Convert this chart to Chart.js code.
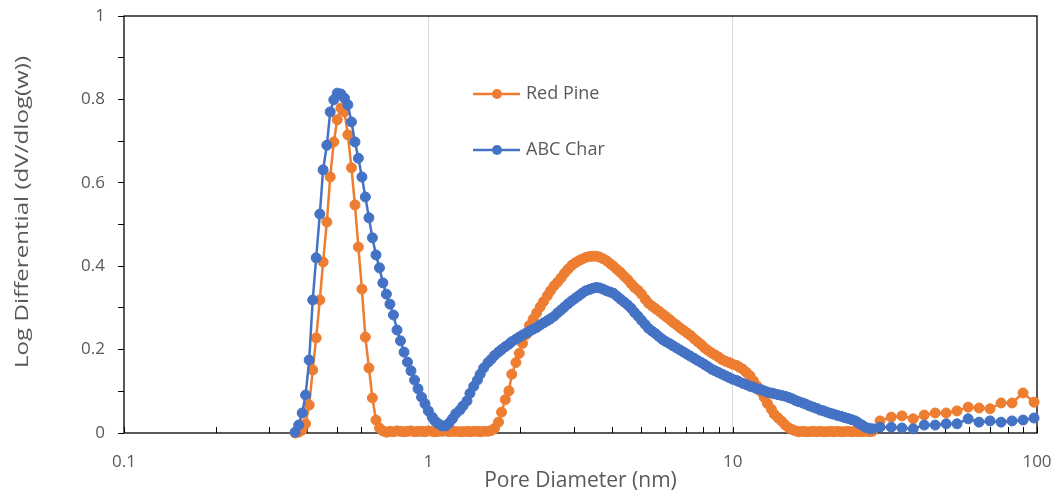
<!DOCTYPE html>
<html>
<head>
<meta charset="utf-8">
<script src="https://cdn.jsdelivr.net/npm/chart.js@4.4.1/dist/chart.umd.min.js"></script>
<style>
  html, body { margin: 0; padding: 0; background: #fff; }
  #wrap { width: 1057px; height: 497px; position: relative; }
</style>
</head>
<body>
<div id="wrap"><canvas id="poreChart"></canvas></div>
<script>
// pore diameters (nm), shared by both samples
const poreDiameter = [
  0.365, 0.375, 0.385, 0.395, 0.406, 0.417, 0.428, 0.440, 0.451, 0.464,
  0.476, 0.489, 0.502, 0.516, 0.530, 0.544, 0.559, 0.574, 0.589, 0.605,
  0.621, 0.638, 0.655, 0.673, 0.691, 0.709, 0.728, 0.748, 0.768, 0.789,
  0.810, 0.832, 0.854, 0.877, 0.901, 0.925, 0.950, 0.975, 1.00, 1.03,
  1.05, 1.08, 1.11, 1.14, 1.17, 1.20, 1.23, 1.27,
  1.30, 1.34, 1.37, 1.41, 1.45, 1.48, 1.52, 1.57, 1.61, 1.65,
  1.70, 1.74, 1.79, 1.84, 1.88, 1.94, 1.99, 2.04, 2.10, 2.15,
  2.21, 2.27, 2.33, 2.39, 2.46, 2.52, 2.59, 2.66, 2.73, 2.80,
  2.88, 2.96, 3.04, 3.12, 3.20, 3.29, 3.38, 3.47, 3.56, 3.65,
  3.75, 3.85, 3.96, 4.06, 4.17, 4.28, 4.40, 4.52, 4.64, 4.76,
  4.89, 5.02, 5.16, 5.29, 5.44, 5.58, 5.73, 5.89, 6.04, 6.21,
  6.37, 6.54, 6.72, 6.90, 7.08, 7.27, 7.47, 7.67, 7.88, 8.09,
  8.30, 8.53, 8.76, 8.99, 9.23, 9.48, 9.73, 9.99, 10.3, 10.5,
  10.8, 11.1, 11.4, 11.7, 12.0, 12.4, 12.7, 13.0, 13.4, 13.7,
  14.1, 14.5, 14.9, 15.3, 15.7, 16.1, 16.5, 17.0, 17.4, 17.9,
  18.4, 18.9, 19.4, 19.9, 20.4, 21.0, 21.5, 22.1, 22.7, 23.3,
  23.9, 24.6, 25.3, 25.9, 26.6, 27.3, 28.1, 28.8,
  30.5, 33.2, 36.0, 39.2, 42.6, 46.3, 50.3, 54.6, 59.4, 64.5,
  70.1, 76.2, 82.8, 90.0, 97.8
];

const redPine = [
  0, 0.002, 0.007, 0.022, 0.067, 0.151, 0.228, 0.319, 0.41, 0.506,
  0.614, 0.698, 0.751, 0.779, 0.77, 0.715, 0.636, 0.547, 0.446, 0.345,
  0.23, 0.156, 0.084, 0.031, 0.012, 0.005, 0.002, 0.004, 0.003, 0.005,
  0.004, 0.003, 0.004, 0.005, 0.003, 0.004, 0.004, 0.003, 0.005, 0.004,
  0.003, 0.004, 0.004, 0.005, 0.003, 0.004, 0.004, 0.003,
  0.003, 0.004, 0.003, 0.004, 0.004, 0.003, 0.004, 0.004, 0.006, 0.011,
  0.026, 0.05, 0.08, 0.101, 0.141, 0.169, 0.191, 0.215, 0.236, 0.258,
  0.273, 0.288, 0.302, 0.315, 0.329, 0.341, 0.353, 0.362, 0.372, 0.383,
  0.393, 0.402, 0.408, 0.413, 0.417, 0.421, 0.423, 0.424, 0.424, 0.422,
  0.418, 0.413, 0.406, 0.4, 0.392, 0.385, 0.376, 0.368, 0.358, 0.349,
  0.342, 0.333, 0.321, 0.311, 0.304, 0.298, 0.292, 0.285, 0.279, 0.272,
  0.265, 0.259, 0.252, 0.246, 0.24, 0.234, 0.226, 0.219, 0.212, 0.204,
  0.198, 0.192, 0.187, 0.182, 0.176, 0.172, 0.169, 0.165, 0.162, 0.158,
  0.153, 0.145, 0.137, 0.125, 0.113, 0.099, 0.085, 0.071, 0.057, 0.045,
  0.036, 0.028, 0.019, 0.012, 0.008, 0.005, 0.003, 0.004, 0.003, 0.003,
  0.004, 0.003, 0.004, 0.003, 0.003, 0.004, 0.003, 0.004, 0.003, 0.003,
  0.004, 0.003, 0.004, 0.003, 0.003, 0.004, 0.003, 0.004,
  0.029, 0.038, 0.041, 0.034, 0.043, 0.048, 0.048, 0.053, 0.062, 0.06,
  0.058, 0.072, 0.072, 0.096, 0.074
];

const abcChar = [
  0.002, 0.019, 0.048, 0.091, 0.175, 0.319, 0.42, 0.525, 0.631, 0.69,
  0.77, 0.799, 0.815, 0.813, 0.803, 0.787, 0.746, 0.698, 0.659, 0.614,
  0.566, 0.516, 0.468, 0.427, 0.396, 0.36, 0.333, 0.309, 0.283, 0.247,
  0.221, 0.194, 0.17, 0.149, 0.127, 0.106, 0.086, 0.07, 0.053, 0.038,
  0.029, 0.022, 0.017, 0.017, 0.024, 0.034, 0.046, 0.055,
  0.065, 0.077, 0.095, 0.112, 0.127, 0.141, 0.156, 0.169, 0.177, 0.186,
  0.194, 0.2, 0.207, 0.213, 0.219, 0.225, 0.23, 0.235, 0.24, 0.244,
  0.249, 0.253, 0.259, 0.264, 0.269, 0.274, 0.28, 0.288, 0.295, 0.302,
  0.31, 0.317, 0.323, 0.329, 0.335, 0.341, 0.344, 0.347, 0.349, 0.348,
  0.345, 0.341, 0.338, 0.335, 0.328, 0.321, 0.314, 0.307, 0.299, 0.289,
  0.28, 0.27, 0.26, 0.251, 0.244, 0.238, 0.231, 0.224, 0.219, 0.214,
  0.209, 0.204, 0.199, 0.194, 0.189, 0.184, 0.179, 0.174, 0.169, 0.164,
  0.159, 0.153, 0.149, 0.145, 0.141, 0.137, 0.133, 0.129, 0.126, 0.123,
  0.119, 0.116, 0.112, 0.11, 0.106, 0.104, 0.101, 0.098, 0.096, 0.094,
  0.092, 0.09, 0.088, 0.085, 0.082, 0.078, 0.075, 0.072, 0.069, 0.065,
  0.062, 0.059, 0.055, 0.053, 0.05, 0.047, 0.045, 0.042, 0.04, 0.037,
  0.035, 0.032, 0.029, 0.024, 0.019, 0.014, 0.011, 0.01,
  0.014, 0.014, 0.012, 0.01, 0.019, 0.019, 0.022, 0.022, 0.034, 0.026,
  0.029, 0.026, 0.029, 0.031, 0.036
];

const xTickValues = [0.1, 0.2, 0.3, 0.4, 0.5, 0.6, 0.7, 0.8, 0.9,
  1, 2, 3, 4, 5, 6, 7, 8, 9, 10, 20, 30, 40, 50, 60, 70, 80, 90, 100];
const xLabelValues = [0.1, 1, 10, 100];
const xGridValues = [1, 10];

const seriesLabels = ['Red Pine', 'ABC Char'];
const seriesColors = ['#ED7D31', '#4472C4'];
const yTitle = 'Log Differential (dV/dlog(w))';

const textGrey = '#595959';
Chart.defaults.font.family = "'Open Sans', sans-serif";

function toPoints(values) {
  return values.map((v, i) => ({ x: poreDiameter[i], y: v }));
}

// black frame + inward minor ticks on the x axis
const framePlugin = {
  id: 'frame',
  beforeDatasetsDraw(chart) {
    const { ctx, chartArea: a } = chart;
    const x = chart.scales.x;
    ctx.save();
    ctx.strokeStyle = '#000';
    ctx.lineWidth = 1.3;
    ctx.strokeRect(a.left, a.top, a.right - a.left, a.bottom - a.top);
    ctx.lineWidth = 1;
    ctx.beginPath();
    xTickValues.forEach((v) => {
      const px = Math.round(x.getPixelForValue(v)) + 0.5;
      ctx.moveTo(px, a.bottom);
      ctx.lineTo(px, a.bottom - 6);
    });
    ctx.stroke();
    ctx.restore();
  }
};

// legend inside the plot + the tall y-axis title
const legendPlugin = {
  id: 'innerLegend',
  afterDraw(chart) {
    const { ctx } = chart;
    const rows = [94, 150];
    ctx.save();
    chart.data.datasets.forEach((ds, i) => {
      const y = rows[i];
      ctx.strokeStyle = ds.borderColor;
      ctx.lineWidth = 2.5;
      ctx.beginPath();
      ctx.moveTo(473, y);
      ctx.lineTo(520, y);
      ctx.stroke();
      ctx.fillStyle = ds.borderColor;
      ctx.beginPath();
      ctx.arc(497, y, 5, 0, Math.PI * 2);
      ctx.fill();
      ctx.fillStyle = textGrey;
      ctx.font = "18px 'Open Sans', sans-serif";
      ctx.textBaseline = 'middle';
      ctx.fillText(ds.label, 526, y);
    });

    ctx.translate(23, 212);
    ctx.rotate(-Math.PI / 2);
    ctx.scale(1.34, 1);
    ctx.font = "18px 'Open Sans', sans-serif";
    ctx.textAlign = 'center';
    ctx.fillText(yTitle, 0, 0);
    ctx.restore();
  }
};

new Chart(document.getElementById('poreChart'), {
  type: 'scatter',
  data: {
    datasets: [redPine, abcChar].map((vals, i) => ({
      label: seriesLabels[i],
      data: toPoints(vals),
      showLine: true,
      borderColor: seriesColors[i],
      backgroundColor: seriesColors[i],
      pointBackgroundColor: seriesColors[i],
      pointBorderColor: seriesColors[i],
      borderWidth: 2.5,
      pointRadius: 5,
      pointBorderWidth: 1,
      tension: 0,
      clip: false,
      order: i === 0 ? 2 : 1
    }))
  },
  options: {
    responsive: true,
    maintainAspectRatio: false,
    animation: false,
    layout: { padding: { left: 0, top: 16, right: 20, bottom: 0 } },
    plugins: {
      legend: { display: false },
      tooltip: { enabled: false }
    },
    scales: {
      x: {
        type: 'logarithmic',
        min: 0.1,
        max: 100,
        afterBuildTicks(scale) {
          scale.ticks = xTickValues.map((v) => ({ value: v }));
        },
        afterFit(scale) {
          scale.height = 64;
          scale.paddingLeft = 0;
          scale.paddingRight = 0;
        },
        ticks: {
          autoSkip: false,
          maxRotation: 0,
          padding: 19,
          color: textGrey,
          font: { size: 17 },
          callback: (v) => (xLabelValues.includes(v) ? String(v) : '')
        },
        grid: {
          drawTicks: false,
          lineWidth: 1,
          color: (c) => (c.tick && xGridValues.includes(c.tick.value) ? '#d9d9d9' : 'rgba(0,0,0,0)')
        },
        border: { display: false },
        title: {
          display: true,
          text: 'Pore Diameter (nm)',
          color: textGrey,
          font: { size: 21 },
          padding: { top: 0, bottom: 3 }
        }
      },
      y: {
        min: 0,
        max: 1,
        afterFit(scale) {
          scale.width = 124;
          scale.paddingTop = 0;
          scale.paddingBottom = 0;
        },
        ticks: {
          stepSize: 0.1,
          padding: 13,
          color: textGrey,
          font: { size: 17 },
          callback: (v) => (Math.round(v * 10) % 2 === 0 ? String(Math.round(v * 10) / 10) : '')
        },
        grid: {
          drawOnChartArea: false,
          drawTicks: true,
          tickLength: 6,
          tickColor: '#000',
          tickWidth: 1
        },
        border: { display: false }
      }
    }
  },
  plugins: [framePlugin, legendPlugin]
});
</script>
</body>
</html>
